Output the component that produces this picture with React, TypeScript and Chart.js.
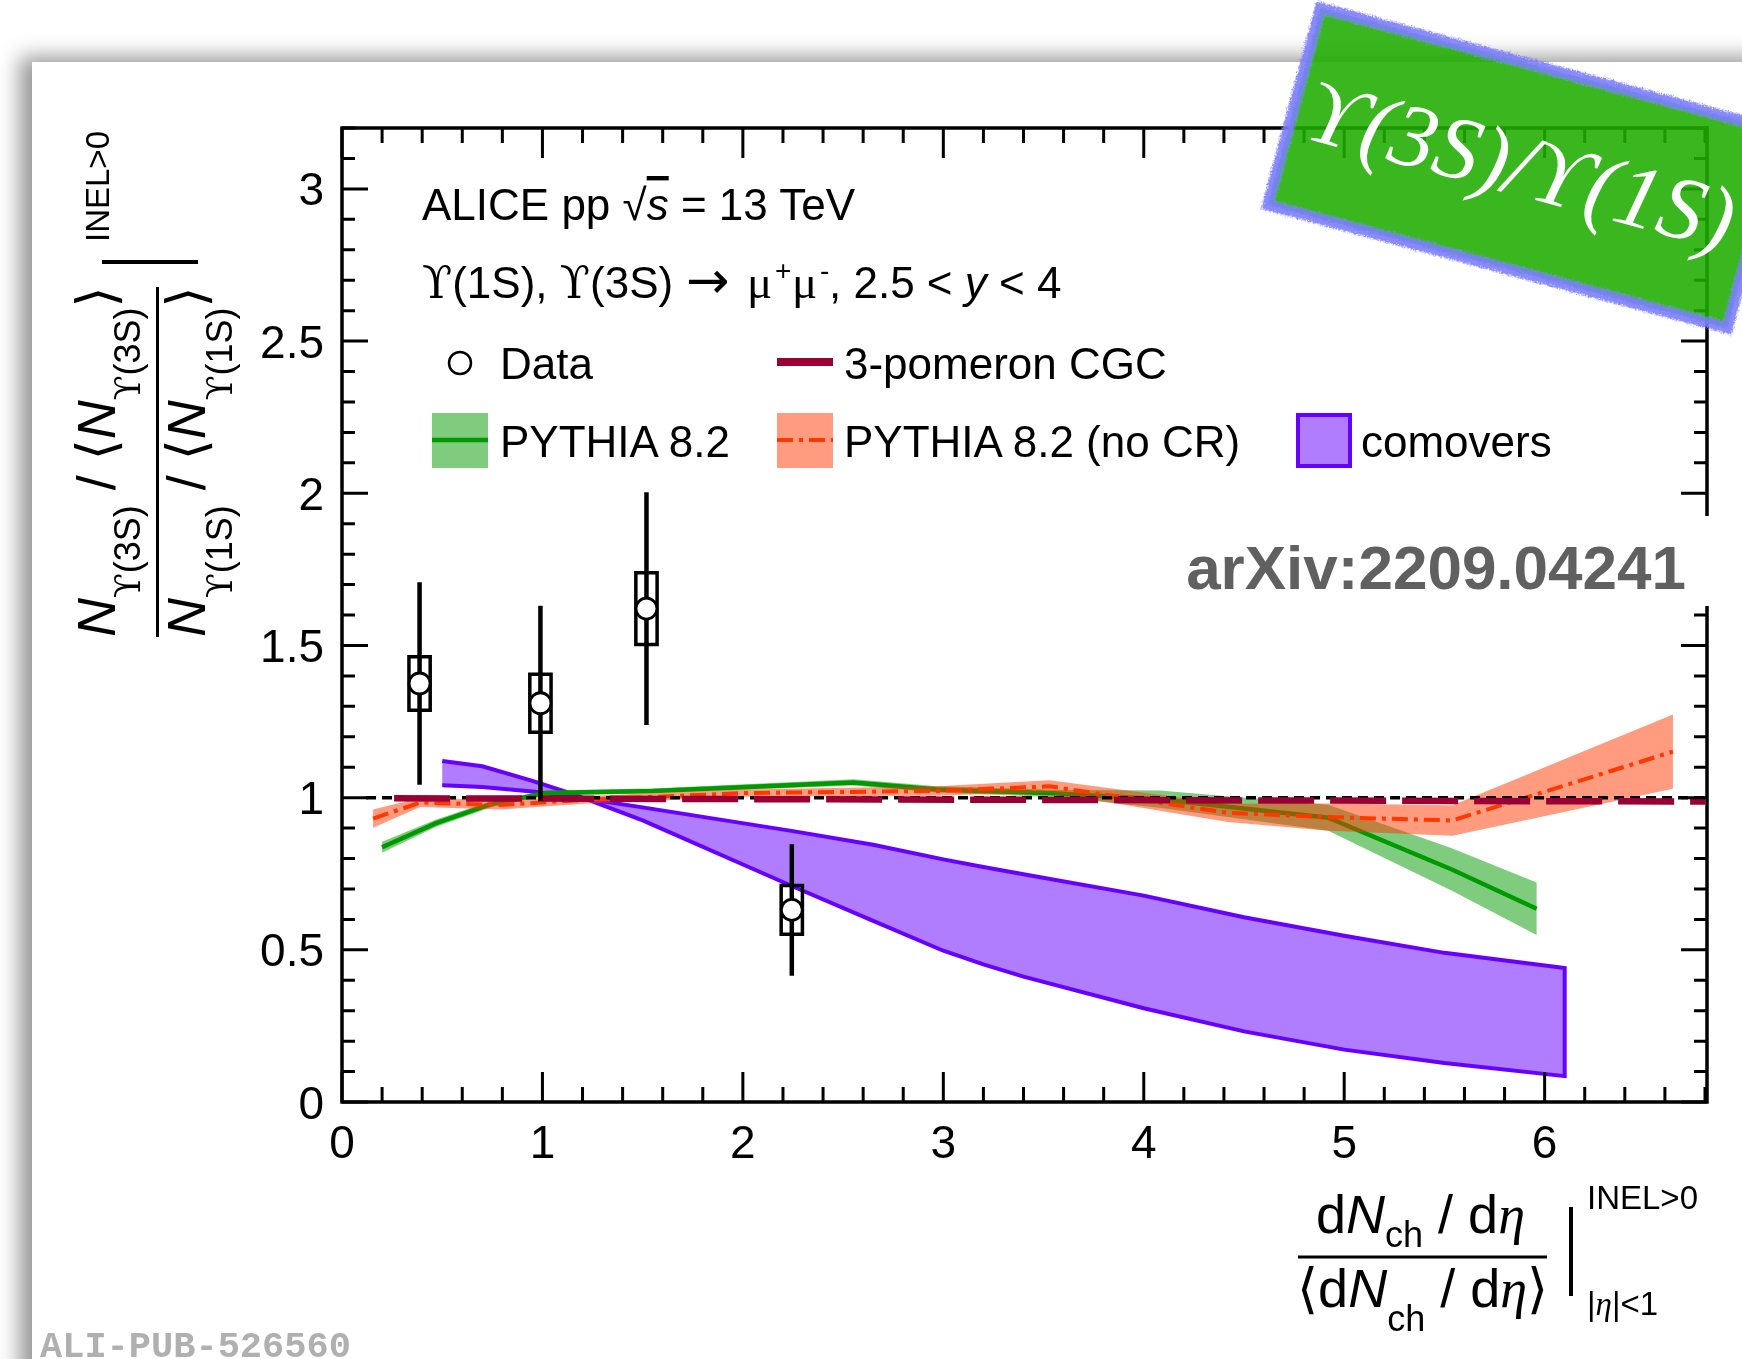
import React, { useEffect, useRef } from "react";
import { Chart, registerables } from "chart.js";

Chart.register(...registerables);

const W = 1742;
const H = 1359;

// ---- axes ----
const xRange = [0, 6.81];
const yRange = [0, 3.2];
const xMajorTicks = [0, 1, 2, 3, 4, 5, 6];
const xTickLabels = ["0", "1", "2", "3", "4", "5", "6"];
const yMajorTicks = [0, 0.5, 1, 1.5, 2, 2.5, 3];
const yTickLabels = ["0", "0.5", "1", "1.5", "2", "2.5", "3"];
const xMinorStep = 0.2;
const yMinorStep = 0.1;

// ---- ALICE data ----
const dataX = [0.387, 0.99, 1.519, 2.244];
const dataY = [1.375, 1.31, 1.621, 0.631];
const dataStatErr = [0.333, 0.32, 0.382, 0.216];
const dataSystErr = [0.088, 0.095, 0.118, 0.08];
const dataSystHalfWidth = [0.053, 0.053, 0.053, 0.053];

// ---- PYTHIA 8.2 ----
const pythiaX = [0.2, 0.47, 0.75, 1.02, 1.55, 2.55, 2.97, 3.55, 4.08, 4.92, 5.54, 5.96];
const pythiaY = [0.837, 0.916, 0.98, 1.015, 1.022, 1.05, 1.027, 1.014, 0.995, 0.934, 0.763, 0.635];
const pythiaErr = [0.018, 0.012, 0.01, 0.008, 0.008, 0.01, 0.01, 0.012, 0.028, 0.043, 0.07, 0.086];

// ---- PYTHIA 8.2 (no CR) ----
const noCRX = [0.155, 0.39, 0.79, 1.22, 2.0, 2.97, 3.53, 4.42, 4.92, 5.54, 6.64];
const noCRY = [0.931, 0.984, 0.976, 0.993, 1.015, 1.022, 1.037, 0.95, 0.936, 0.925, 1.151];
const noCRErr = [0.03, 0.015, 0.015, 0.012, 0.012, 0.015, 0.02, 0.03, 0.045, 0.05, 0.122];

// ---- comovers band ----
const comoversX = [0.5, 0.7, 0.95, 1.15, 1.5, 2.25, 2.65, 3.0, 3.2, 3.4, 4.0, 4.5, 5.0, 5.5, 6.1];
const comoversEdgeFlat = [1.041, 1.035, 1.02, 1.003, 0.968, 0.89, 0.845, 0.797, 0.772, 0.748, 0.678, 0.607, 0.546, 0.49, 0.44];
const comoversEdgeSteep = [1.12, 1.103, 1.055, 1.012, 0.925, 0.708, 0.595, 0.497, 0.452, 0.412, 0.308, 0.232, 0.172, 0.128, 0.085];

// ---- 3-pomeron CGC ----
const cgcX = [0.26, 6.8];
const cgcY = [0.998, 0.987];

// ---- unity line ----
const unityX = [0.12, 6.81];
const unityY = [1, 1];

const SANS = "'Liberation Sans', Arial, Helvetica, sans-serif";
const SERIF = "'Liberation Serif', 'DejaVu Serif', 'Times New Roman', serif";
const SYM = "'DejaVu Serif', 'Liberation Serif', serif";
const BRACK = "'DejaVu Sans', 'Liberation Sans', sans-serif";

const pts = (xs: number[], ys: number[]) => xs.map((x, i) => ({ x, y: ys[i] }));
const band = (xs: number[], ys: number[], es: number[]) => [
  ...xs.map((x, i) => ({ x, y: ys[i] + es[i] })),
  ...xs.map((x, i) => ({ x, y: ys[i] - es[i] })).reverse(),
];

const axisPlugin = {
  id: "rootFrame",
  afterDatasetsDraw(chart: any) {
    const { ctx, chartArea: a } = chart;
    const xs = chart.scales.x;
    const ys = chart.scales.y;
    ctx.save();
    ctx.strokeStyle = "#000";
    ctx.lineWidth = 3;
    ctx.beginPath();
    const nx = Math.round((xRange[1] - xRange[0]) / xMinorStep);
    for (let i = 0; i <= nx; i++) {
      const v = xRange[0] + i * xMinorStep;
      if (v > xRange[1] + 1e-9) break;
      const major = xMajorTicks.some((t) => Math.abs(t - v) < 1e-6);
      const len = major ? 30 : 15;
      const p = xs.getPixelForValue(v);
      ctx.moveTo(p, a.bottom);
      ctx.lineTo(p, a.bottom - len);
      ctx.moveTo(p, a.top);
      ctx.lineTo(p, a.top + len);
    }
    const ny = Math.round((yRange[1] - yRange[0]) / yMinorStep);
    for (let i = 0; i <= ny; i++) {
      const v = yRange[0] + i * yMinorStep;
      if (v > yRange[1] + 1e-9) break;
      const major = yMajorTicks.some((t) => Math.abs(t - v) < 1e-6);
      const len = major ? 26 : 13;
      const p = ys.getPixelForValue(v);
      ctx.moveTo(a.left, p);
      ctx.lineTo(a.left + len, p);
      ctx.moveTo(a.right, p);
      ctx.lineTo(a.right - len, p);
    }
    ctx.stroke();
    ctx.lineWidth = 3.5;
    ctx.strokeRect(a.left, a.top, a.right - a.left, a.bottom - a.top);

    ctx.fillStyle = "#000";
    ctx.font = "46px 'Liberation Sans', Arial, sans-serif";
    ctx.textBaseline = "alphabetic";
    ctx.textAlign = "center";
    xMajorTicks.forEach((t, i) => ctx.fillText(xTickLabels[i], xs.getPixelForValue(t), a.bottom + 56));
    ctx.textAlign = "right";
    yMajorTicks.forEach((t, i) => ctx.fillText(yTickLabels[i], a.left - 18, ys.getPixelForValue(t) + 16.5));
    ctx.restore();
  },
};

const line = (data: any[], color: string, width: number, order: number, extra: any = {}) => ({
  data,
  showLine: true,
  fill: false,
  borderColor: color,
  borderWidth: width,
  pointRadius: 0,
  pointHoverRadius: 0,
  order,
  ...extra,
});

export default function App() {
  const ref = useRef<HTMLCanvasElement | null>(null);

  useEffect(() => {
    if (!ref.current) return;
    const datasets: any[] = [];

    // data markers (top)
    datasets.push({
      data: pts(dataX, dataY),
      showLine: false,
      pointRadius: 10.5,
      pointHoverRadius: 10.5,
      pointBorderWidth: 2.8,
      pointBorderColor: "#000",
      pointBackgroundColor: "#fff",
      order: 0,
    });
    // stat error bars
    dataX.forEach((x, i) => {
      datasets.push(
        line(
          [
            { x, y: dataY[i] - dataStatErr[i] },
            { x, y: dataY[i] + dataStatErr[i] },
          ],
          "#000",
          4.5,
          1
        )
      );
    });
    // syst boxes
    dataX.forEach((x, i) => {
      const w = dataSystHalfWidth[i];
      const lo = dataY[i] - dataSystErr[i];
      const hi = dataY[i] + dataSystErr[i];
      datasets.push(
        line(
          [
            { x: x - w, y: lo },
            { x: x + w, y: lo },
            { x: x + w, y: hi },
            { x: x - w, y: hi },
            { x: x - w, y: lo },
          ],
          "#000",
          3.5,
          1,
          { borderCapStyle: "square" }
        )
      );
    });
    // CGC
    datasets.push(line(pts(cgcX, cgcY), "#990033", 6.5, 2, { borderDash: [56, 16] }));
    // unity
    datasets.push(line(pts(unityX, unityY), "#000", 3.5, 3, { borderDash: [10, 6] }));
    // no CR line
    datasets.push(line(pts(noCRX, noCRY), "#ff3700", 4, 4, { borderDash: [16, 6, 4, 6] }));
    // no CR band
    datasets.push(
      line(band(noCRX, noCRY, noCRErr), "rgba(0,0,0,0)", 0, 5, {
        fill: "shape",
        backgroundColor: "rgba(255,55,0,0.5)",
      })
    );
    // PYTHIA line
    datasets.push(line(pts(pythiaX, pythiaY), "#009900", 4.5, 6));
    // PYTHIA band
    datasets.push(
      line(band(pythiaX, pythiaY, pythiaErr), "rgba(0,0,0,0)", 0, 7, {
        fill: "shape",
        backgroundColor: "rgba(0,153,0,0.5)",
      })
    );
    // comovers
    datasets.push(
      line(
        [...pts(comoversX, comoversEdgeFlat), ...pts(comoversX, comoversEdgeSteep).reverse()],
        "#6600ff",
        4,
        8,
        { fill: "shape", backgroundColor: "#b07dff" }
      )
    );

    const chart = new Chart(ref.current, {
      type: "scatter",
      data: { datasets },
      options: {
        responsive: false,
        animation: false,
        devicePixelRatio: 1,
        events: [],
        layout: { padding: { left: 342, top: 128, right: 35, bottom: 257 } },
        plugins: {
          legend: { display: false },
          tooltip: { enabled: false },
        },
        scales: {
          x: { type: "linear", min: xRange[0], max: xRange[1], display: false },
          y: { type: "linear", min: yRange[0], max: yRange[1], display: false },
        },
      } as any,
      plugins: [axisPlugin],
    });
    return () => chart.destroy();
  }, []);

  const pre = { whiteSpace: "pre" as const };

  return (
    <div style={{ position: "absolute", left: 0, top: 0, width: W, height: H, overflow: "hidden", background: "#fff" }}>
      <div
        style={{
          position: "absolute",
          left: 32,
          top: 62,
          width: W,
          height: H,
          background: "#fff",
          boxShadow: "-10px -3px 20px 2px rgba(0,0,0,0.42)",
        }}
      />
      <canvas ref={ref} width={W} height={H} style={{ position: "absolute", left: 0, top: 0, width: W, height: H }} />
      <svg
        width={W}
        height={H}
        viewBox={`0 0 ${W} ${H}`}
        style={{ position: "absolute", left: 0, top: 0, pointerEvents: "none" }}
        fontFamily={SANS}
      >
        <defs>
          <filter id="rough" x="-10%" y="-20%" width="120%" height="140%">
            <feTurbulence type="fractalNoise" baseFrequency="0.9" numOctaves="2" result="n" />
            <feDisplacementMap in="SourceGraphic" in2="n" scale="7" xChannelSelector="R" yChannelSelector="G" />
          </filter>
        </defs>

        {/* header texts */}
        <text x={422} y={220} fontSize={44} style={pre}>
          {"ALICE pp "}
          <tspan>√</tspan>
          <tspan fontStyle="italic" style={{ textDecoration: "overline" }}>s</tspan>
          {" = 13 TeV"}
        </text>
        <text x={422} y={298} fontSize={44} style={pre}>
          <tspan fontFamily={SYM}>ϒ</tspan>
          {"(1S), "}
          <tspan fontFamily={SYM}>ϒ</tspan>
          {"(3S)"}
          <tspan fontFamily={BRACK} fontSize={52} x={686}>→</tspan>
          <tspan fontFamily={SERIF} fontSize={47} x={747}>μ</tspan>
          <tspan fontSize={28} dy={-18} x={775}>+</tspan>
          <tspan fontFamily={SERIF} fontSize={47} dy={18} x={792}>μ</tspan>
          <tspan fontSize={28} dy={-18} x={820}>-</tspan>
          <tspan dy={18} x={829}>{", 2.5 < "}</tspan>
          <tspan fontStyle="italic">y</tspan>
          {" < 4"}
        </text>

        {/* legend */}
        <circle cx={460} cy={363} r={11} fill="none" stroke="#000" strokeWidth={2.5} />
        <text x={500} y={379} fontSize={44}>Data</text>
        <line x1={777} x2={833} y1={362} y2={362} stroke="#990033" strokeWidth={8} />
        <text x={844} y={379} fontSize={44}>3-pomeron CGC</text>

        <rect x={432} y={413} width={56} height={55} fill="rgba(0,153,0,0.5)" />
        <line x1={432} x2={488} y1={440} y2={440} stroke="#009900" strokeWidth={4.5} />
        <text x={500} y={457} fontSize={44}>PYTHIA 8.2</text>

        <rect x={777} y={413} width={56} height={55} fill="rgba(255,55,0,0.5)" />
        <line x1={777} x2={833} y1={440} y2={440} stroke="#ff3700" strokeWidth={4} strokeDasharray="16 6 4 6" />
        <text x={844} y={457} fontSize={44}>PYTHIA 8.2 (no CR)</text>

        <rect x={1298} y={415} width={52} height={51} fill="#b07dff" stroke="#6600ff" strokeWidth={4} />
        <text x={1361} y={457} fontSize={44}>comovers</text>

        {/* arXiv label */}
        <rect x={1175} y={516} width={567} height={90} fill="#fff" />
        <text x={1686} y={589} fontSize={62} fontWeight="bold" fill="#606060" textAnchor="end">
          arXiv:2209.04241
        </text>

        {/* y-axis title */}
        <g transform="translate(72,639) rotate(-90)">
          <text x={2} y={43} fontSize={54} style={pre}>
            <tspan fontStyle="italic">N</tspan>
            <tspan fontSize={36} dy={25} fontFamily={SYM}>ϒ</tspan>
            <tspan fontSize={36}>(3S)</tspan>
            <tspan dy={-25}>{" / "}</tspan>
            <tspan fontFamily={BRACK}>⟨</tspan>
            <tspan fontStyle="italic">N</tspan>
            <tspan fontSize={36} dy={25} fontFamily={SYM}>ϒ</tspan>
            <tspan fontSize={36}>(3S)</tspan>
            <tspan dy={-25} fontFamily={BRACK}>⟩</tspan>
          </text>
          <line x1={2} x2={352} y1={85.5} y2={85.5} stroke="#000" strokeWidth={3} />
          <text x={2} y={133} fontSize={54} style={pre}>
            <tspan fontStyle="italic">N</tspan>
            <tspan fontSize={36} dy={27} fontFamily={SYM}>ϒ</tspan>
            <tspan fontSize={36}>(1S)</tspan>
            <tspan dy={-27}>{" / "}</tspan>
            <tspan fontFamily={BRACK}>⟨</tspan>
            <tspan fontStyle="italic">N</tspan>
            <tspan fontSize={36} dy={27} fontFamily={SYM}>ϒ</tspan>
            <tspan fontSize={36}>(1S)</tspan>
            <tspan dy={-27} fontFamily={BRACK}>⟩</tspan>
          </text>
          <line x1={377} x2={377} y1={30} y2={126} stroke="#000" strokeWidth={4} />
          <text x={397} y={37} fontSize={33}>INEL&gt;0</text>
        </g>

        {/* x-axis title */}
        <text x={1316} y={1233} fontSize={54} style={pre}>
          {"d"}
          <tspan fontStyle="italic">N</tspan>
          <tspan fontSize={36} dy={14}>ch</tspan>
          <tspan dy={-14}>{" / d"}</tspan>
          <tspan fontFamily={SERIF} fontStyle="italic">η</tspan>
        </text>
        <line x1={1298} x2={1547} y1={1257} y2={1257} stroke="#000" strokeWidth={3} />
        <text x={1297} y={1307} fontSize={54} style={pre}>
          <tspan fontFamily={BRACK}>⟨</tspan>
          {"d"}
          <tspan fontStyle="italic">N</tspan>
          <tspan fontSize={36} dy={24}>ch</tspan>
          <tspan dy={-24}>{" / d"}</tspan>
          <tspan fontFamily={SERIF} fontStyle="italic">η</tspan>
          <tspan fontFamily={BRACK}>⟩</tspan>
        </text>
        <line x1={1571} x2={1571} y1={1207} y2={1296} stroke="#000" strokeWidth={4} />
        <text x={1587} y={1209} fontSize={33}>INEL&gt;0</text>
        <text x={1587} y={1315} fontSize={33} style={pre}>
          {"|"}
          <tspan fontFamily={SERIF} fontStyle="italic">η</tspan>
          {"|<1"}
        </text>

        {/* publication id */}
        <text x={40} y={1357} fontSize={37} fontWeight="bold" fill="#b0b0b0" fontFamily="'Liberation Mono', 'Courier New', monospace">
          ALI-PUB-526560
        </text>

        {/* sticker */}
        <g transform="translate(1524,168) rotate(15)">
          <rect
            x={-238}
            y={-102}
            width={476}
            height={204}
            fill="rgba(30,172,4,0.88)"
            stroke="rgba(125,125,255,0.9)"
            strokeWidth={11}
            filter="url(#rough)"
          />
          <text x={-4} y={28} fontSize={90} fontStyle="italic" fontFamily={SERIF} fill="#fff" textAnchor="middle">
            ϒ(3S)/ϒ(1S)
          </text>
        </g>
      </svg>
    </div>
  );
}
